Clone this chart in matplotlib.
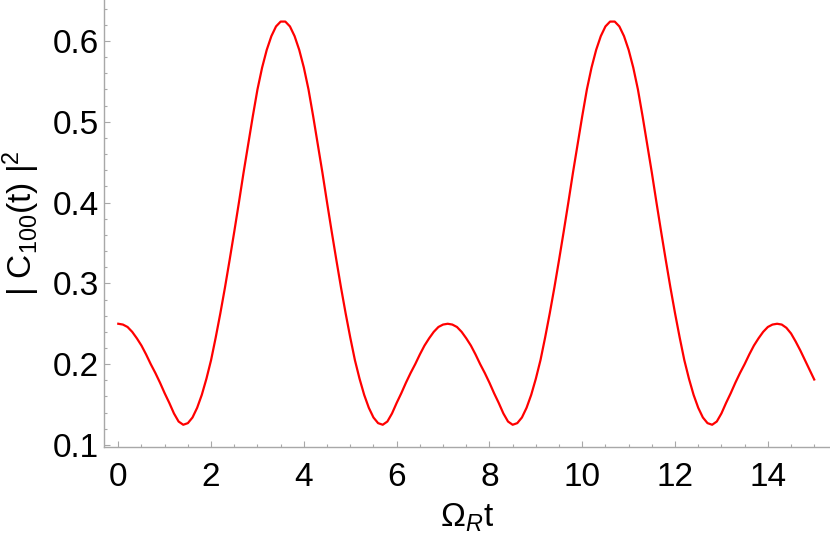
import numpy as np
import matplotlib
matplotlib.use("Agg")
import matplotlib.pyplot as plt
from matplotlib.ticker import MultipleLocator

plt.rcParams['font.family'] = ['Liberation Sans', 'DejaVu Sans']
plt.rcParams['mathtext.fontset'] = 'custom'
plt.rcParams['mathtext.rm'] = 'Liberation Sans'
plt.rcParams['mathtext.it'] = 'Liberation Sans:italic'
plt.rcParams['mathtext.default'] = 'regular'

c100 = [
    0.250, 0.249, 0.246, 0.240, 0.232, 0.223, 0.212, 0.200, 0.189, 0.177,
    0.164, 0.152, 0.139, 0.129, 0.125, 0.127, 0.134, 0.146, 0.162, 0.182,
    0.205, 0.233, 0.263, 0.295, 0.329, 0.364, 0.400, 0.437, 0.472, 0.507,
    0.540, 0.567, 0.589, 0.606, 0.618, 0.624,
    0.624, 0.618, 0.606, 0.589, 0.567, 0.540, 0.507, 0.472, 0.437, 0.400,
    0.364, 0.329, 0.295, 0.263, 0.233, 0.205, 0.182, 0.162, 0.146, 0.134,
    0.127, 0.125, 0.129, 0.139, 0.152, 0.164, 0.177, 0.189, 0.200, 0.212,
    0.223, 0.232, 0.240, 0.246, 0.249, 0.250,
    0.249, 0.246, 0.240, 0.232, 0.223, 0.212, 0.200, 0.189, 0.177, 0.164,
    0.152, 0.139, 0.129, 0.125, 0.127, 0.134, 0.146, 0.162, 0.182, 0.205,
    0.233, 0.263, 0.295, 0.329, 0.364, 0.400, 0.437, 0.472, 0.507, 0.540,
    0.567, 0.589, 0.606, 0.618, 0.624,
    0.624, 0.618, 0.606, 0.589, 0.567, 0.540, 0.507, 0.472, 0.437, 0.400,
    0.364, 0.329, 0.295, 0.263, 0.233, 0.205, 0.182, 0.162, 0.146, 0.134,
    0.127, 0.125, 0.129, 0.139, 0.152, 0.164, 0.177, 0.189, 0.200, 0.212,
    0.223, 0.232, 0.240, 0.246, 0.249, 0.250,
    0.249, 0.245, 0.238, 0.228, 0.217, 0.205, 0.193, 0.181,
]
t = np.linspace(0, 15, len(c100))

fig = plt.figure(figsize=(8.3, 5.41), dpi=100)
ax = fig.add_axes([0.1259, 0.1738, 0.8741, 0.8262])
ax.plot(t, c100, color='#ff0000', lw=1.6, clip_on=False)

ax.set_xlim(-0.297, 15.34)
ax.set_ylim(0.0975, 0.6507)
ax.xaxis.set_major_locator(MultipleLocator(2))
ax.xaxis.set_minor_locator(MultipleLocator(0.5))
ax.yaxis.set_major_locator(MultipleLocator(0.1))
ax.yaxis.set_minor_locator(MultipleLocator(0.02))
ax.yaxis.set_major_formatter(plt.FuncFormatter(lambda v, p: '%.1f' % v))

for s in ['top', 'right']:
    ax.spines[s].set_visible(False)
for s in ['left', 'bottom']:
    ax.spines[s].set_color('#a8a8a8')
    ax.spines[s].set_linewidth(1.0)
ax.tick_params(which='both', direction='in', color='#a8a8a8', width=0.8,
               labelsize=24, labelcolor='black')
ax.tick_params(axis='x', which='major', length=4.5, pad=11)
ax.tick_params(axis='y', which='major', length=4.5, pad=4)
ax.tick_params(which='minor', length=2.5)

ax.set_xlabel(r'Ω$_{\mathit{R}}$t', fontsize=24, labelpad=6)
ax.set_ylabel(r'| C$_{100}$(t) |$^{2}$', fontsize=24, labelpad=8)

fig.savefig('out.png', dpi=100)
